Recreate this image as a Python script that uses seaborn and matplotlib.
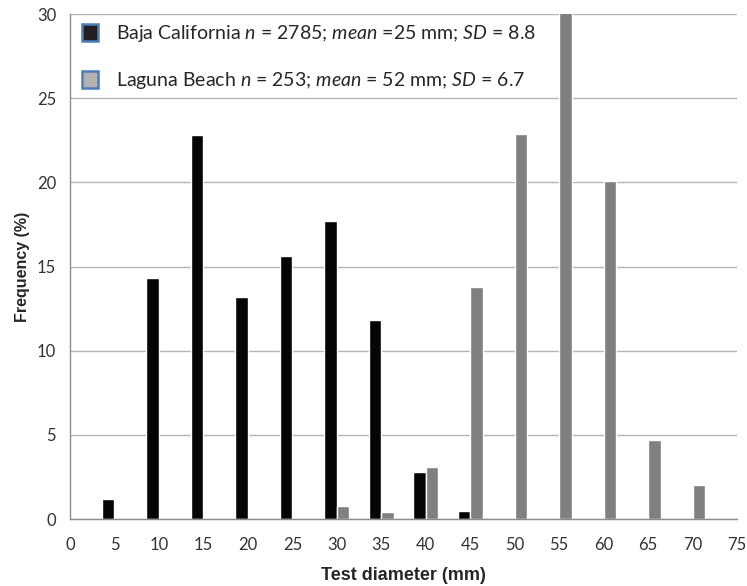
import numpy as np
import pandas as pd
import matplotlib
matplotlib.use("Agg")
import matplotlib.pyplot as plt
import seaborn as sns
from matplotlib.patches import Patch

# ── Data ──
sizes = [5, 10, 15, 20, 25, 30, 35, 40, 45, 50, 55, 60, 65, 70]
baja = [1.2, 14.3, 22.8, 13.2, 15.6, 17.7, 11.8, 2.8, 0.45, 0, 0, 0, 0, 0]
laguna = [0, 0, 0, 0, 0, 0.8, 0.4, 3.1, 13.8, 22.9, 32.2, 20.1, 4.7, 2.0]
sites = ["Baja California", "Laguna Beach"]
legend_labels = [
    r"Baja California $\mathit{n}$ = 2785; $\mathit{mean}$ =25 mm; $\mathit{SD}$ = 8.8",
    r"Laguna Beach $\mathit{n}$ = 253; $\mathit{mean}$ = 52 mm; $\mathit{SD}$ = 6.7",
]
x_ticks = list(range(0, 80, 5))
y_ticks = list(range(0, 35, 5))

df = pd.DataFrame({
    "size": sizes * 2,
    "freq": baja + laguna,
    "site": [sites[0]] * len(sizes) + [sites[1]] * len(sizes),
})

# ── Style ──
sns.set_style("white")
plt.rcParams["font.family"] = ["Lato", "DejaVu Sans"]
plt.rcParams["mathtext.fontset"] = "custom"
plt.rcParams["mathtext.rm"] = "Lato"
plt.rcParams["mathtext.it"] = "Lato:italic"

fig = plt.figure(figsize=(7.47, 5.86), dpi=100)
ax = fig.add_axes([0.0937, 0.1143, 0.8929, 0.8618])

sns.barplot(data=df, x="size", y="freq", hue="site", native_scale=True,
            width=0.56, dodge=True, palette=["#050505", "#808080"],
            saturation=1, ax=ax, legend=False, errorbar=None)

ax.set_xlim(0, 75)
ax.set_ylim(0, 30)
ax.set_xticks(x_ticks)
ax.set_yticks(y_ticks)
ax.yaxis.grid(True, color="#b5b5b5", linewidth=1)
ax.set_axisbelow(True)
for s in ["top", "right"]:
    ax.spines[s].set_visible(False)
for s in ["left", "bottom"]:
    ax.spines[s].set_color("#8c8c8c")
    ax.spines[s].set_linewidth(1)
ax.tick_params(axis="both", direction="out", length=6, width=1,
               color="#8c8c8c", labelsize=12, labelcolor="#333333", pad=4)
ax.tick_params(axis="x", pad=7)

ax.set_xlabel("Test diameter (mm)", fontsize=13, fontweight="bold",
              family="Liberation Sans", labelpad=10)
ax.set_ylabel("Frequency (%)", fontsize=11.5, fontweight="bold",
              family="Liberation Sans", labelpad=5)

handles = [
    Patch(facecolor="#231f20", edgecolor="#4a7ebb", linewidth=1.8),
    Patch(facecolor="#b3b1b1", edgecolor="#4a7ebb", linewidth=1.8),
]
ax.legend(handles, legend_labels, loc="upper left", frameon=False,
          fontsize=14, handlelength=0.85, handleheight=0.95,
          handletextpad=0.9, labelspacing=1.35,
          bbox_to_anchor=(0.0, 1.005), borderaxespad=0.2)

fig.savefig("out.png", dpi=100)
